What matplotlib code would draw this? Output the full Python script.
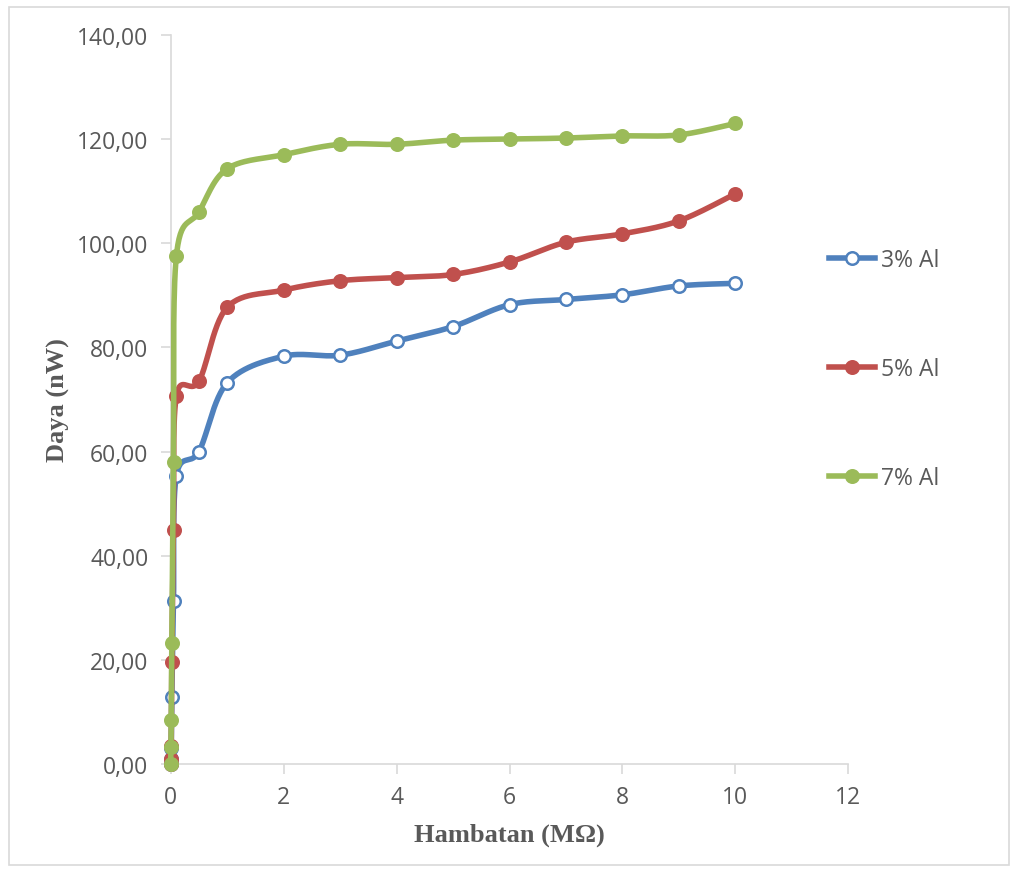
import numpy as np
import matplotlib.pyplot as plt
from matplotlib.ticker import FuncFormatter, MultipleLocator
from matplotlib.patches import Rectangle

# hambatan (MOhm)
hambatan = [0, 0.005, 0.01, 0.02, 0.05, 0.1, 0.5, 1, 2, 3, 4, 5, 6, 7, 8, 9, 10]

daya_3 = [0, 0.9, 3.0, 12.9, 31.3, 55.3, 60.0, 73.2, 78.3, 78.5, 81.2, 84.0, 88.2, 89.2, 90.1, 91.8, 92.3]
daya_5 = [0, 1.0, 3.5, 19.6, 45.0, 70.6, 73.5, 87.7, 91.0, 92.8, 93.4, 94.0, 96.4, 100.2, 101.8, 104.3, 109.5]
daya_7 = [0, 3.3, 8.5, 23.2, 58.0, 97.5, 106.0, 114.3, 117.0, 119.0, 119.0, 119.8, 120.0, 120.2, 120.6, 120.8, 123.0]

labels = ['3% Al', '5% Al', '7% Al']
colors = ['#4F81BD', '#C0504D', '#9BBB59']


def smooth(x, y, n=30):
    # bezier smoothing like excel's "smoothed line"
    p = np.column_stack([x, y]).astype(float)
    p = np.vstack([p[0], p, p[-1]])
    out = []
    t = np.linspace(0, 1, n)[:, None]
    for i in range(1, len(p) - 2):
        p0, p1 = p[i], p[i + 1]
        c1 = p0 + (p[i + 1] - p[i - 1]) / 6
        c2 = p1 - (p[i + 2] - p[i]) / 6
        seg = (1 - t) ** 3 * p0 + 3 * (1 - t) ** 2 * t * c1 + 3 * (1 - t) * t ** 2 * c2 + t ** 3 * p1
        out.append(seg)
    out = np.vstack(out)
    return out[:, 0], out[:, 1]


fig = plt.figure(figsize=(10.16, 8.7), dpi=100)
ax = fig.add_axes([0.168, 0.1207, 0.667, 0.838])

fig.patches.append(Rectangle((9 / 1016, 4 / 870), 1000 / 1016, 858 / 870, transform=fig.transFigure,
                             fill=False, edgecolor='#D9D9D9', linewidth=1.2))

series = [daya_3, daya_5, daya_7]
for i, ys in enumerate(series):
    sx, sy = smooth(hambatan, ys)
    ax.plot(sx, sy, color=colors[i], lw=4, solid_capstyle='round', zorder=2 + i, clip_on=False)
    face = 'white' if i == 0 else colors[i]
    ax.plot(hambatan, ys, ls='none', marker='o', ms=9, mfc=face, mec=colors[i], mew=1.8,
            zorder=2 + i, clip_on=False)
    # legend proxy
    ax.plot([], [], color=colors[i], lw=4, marker='o', ms=9, mfc=face, mec=colors[i], mew=1.8,
            label=labels[i])

ax.set_xlim(0, 12)
ax.set_ylim(0, 140)
ax.xaxis.set_major_locator(MultipleLocator(2))
ax.yaxis.set_major_locator(MultipleLocator(20))
ax.yaxis.set_major_formatter(FuncFormatter(lambda v, p: f'{v:.2f}'.replace('.', ',')))

for s in ['top', 'right']:
    ax.spines[s].set_visible(False)
for s in ['left', 'bottom']:
    ax.spines[s].set_color('#D9D9D9')
    ax.spines[s].set_linewidth(1.2)
ax.tick_params(axis='both', colors='#D9D9D9', labelcolor='#595959', labelsize=16.5, length=7, width=1.2)
for lab in ax.get_xticklabels() + ax.get_yticklabels():
    lab.set_fontfamily('Open Sans')
ax.tick_params(axis='x', pad=8)
ax.tick_params(axis='y', pad=9)

ax.set_xlabel('Hambatan (MΩ)', fontsize=19, fontweight='bold', family='Liberation Serif',
              color='#595959', labelpad=10)
ax.set_ylabel('Daya (nW)', fontsize=19, fontweight='bold', family='Liberation Serif',
              color='#595959', labelpad=5)

leg = ax.legend(loc='upper left', bbox_to_anchor=(0.958, 0.72), frameon=False, handlelength=2.0,
                labelspacing=3.7, handletextpad=0.25, borderaxespad=0,
                prop={'family': 'Open Sans', 'size': 16.5})
for t in leg.get_texts():
    t.set_color('#595959')

fig.savefig('out.png', dpi=100)
